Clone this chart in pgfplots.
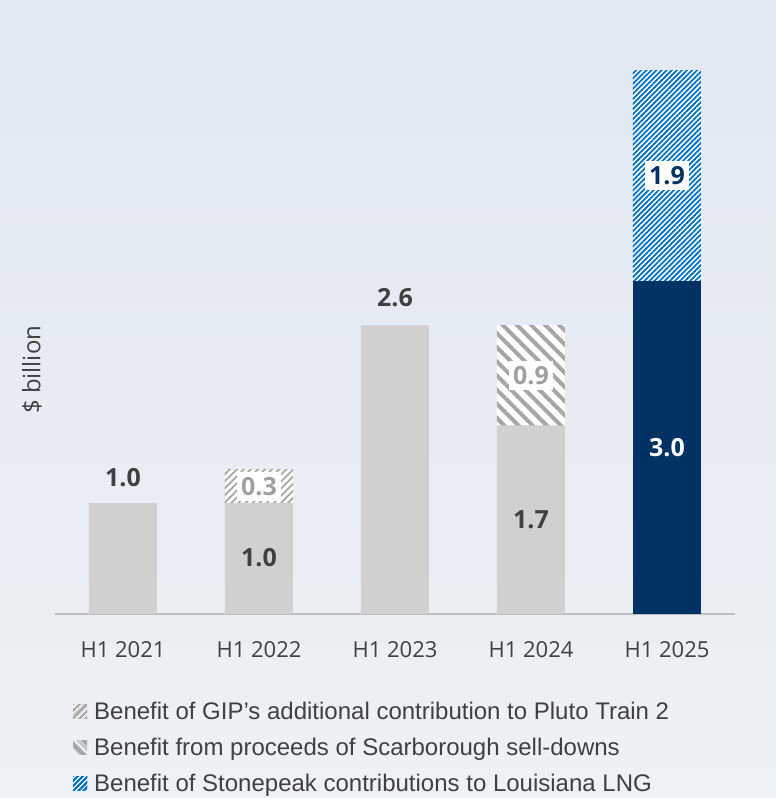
\documentclass[border=0pt]{standalone}
\usepackage{pgfplots}
\pgfplotsset{compat=1.18}
\usepackage{fontspec}
\setmainfont{Open Sans}
\newfontfamily\legendfont{Liberation Sans}
\usetikzlibrary{patterns.meta}
\definecolor{bargrey}{RGB}{208,208,208}
\definecolor{navy}{RGB}{0,50,100}
\definecolor{stripeblue}{RGB}{0,112,192}
\definecolor{stripegrey}{RGB}{166,166,166}
\definecolor{legrey}{RGB}{200,200,200}
\definecolor{txt}{RGB}{64,64,64}
\definecolor{lbl}{RGB}{160,160,160}
\definecolor{axisgrey}{RGB}{191,191,191}
\definecolor{bgtop}{RGB}{225,232,242}
\definecolor{bgbot}{RGB}{238,241,245}
\begin{document}
\begin{tikzpicture}
\shade[top color=bgtop, bottom color=bgbot] (0,0) rectangle (776pt,798pt);
\begin{axis}[
  at={(55pt,184pt)}, anchor=south west,
  scale only axis, width=680pt, height=610.5pt,
  xmin=-0.5, xmax=4.5, ymin=0, ymax=5.5,
  ybar stacked, bar width=0.5,
  axis x line*=bottom, axis y line*=left,
  x axis line style={draw=axisgrey, line width=1.5pt, -},
  y axis line style={draw=none},
  xtick={0,1,2,3,4},
  xticklabels={H1 2021,H1 2022,H1 2023,H1 2024,H1 2025},
  major tick length=0pt, ytick=\empty,
  xticklabel style={font=\fontsize{22}{26}\selectfont, text=txt, yshift=-24pt},
  ylabel={\$ billion},
  ylabel style={at={(axis description cs:-0.034,0.40)}, anchor=center, font=\fontsize{24}{28}\selectfont, text=txt},
  clip=false,
  legend style={at={(0.022,-0.138)}, anchor=north west, draw=none, fill=none,
    font=\legendfont\fontsize{24}{28}\selectfont, text=txt, row sep=13pt,
    /tikz/every odd column/.append style={column sep=5pt}},
  legend cell align=left,
  after end axis/.append code={
    \tikzset{vl/.style={font=\bfseries\fontsize{25}{29}\selectfont, inner sep=2pt},
             vb/.style={vl, fill=white, inner xsep=4pt, inner ysep=5pt}}
    \node[vl, text=txt] at (axis cs:0,1.225) {1.0};
    \node[vl, text=txt] at (axis cs:1,0.51) {1.0};
    \node[vb, text=lbl] at (axis cs:1,1.15) {0.3};
    \node[vl, text=txt] at (axis cs:2,2.85) {2.6};
    \node[vl, text=txt] at (axis cs:3,0.85) {1.7};
    \node[vb, text=lbl] at (axis cs:3,2.15) {0.9};
    \node[vl, text=white] at (axis cs:4,1.5) {3.0};
    \node[vb, text=navy] at (axis cs:4,3.95) {1.9};
  },
]
\addplot[fill=bargrey, draw=none, forget plot] coordinates {(0,1.0) (1,1.0) (2,2.6) (3,1.7) (4,0)};
\addplot[fill=navy, draw=none, forget plot] coordinates {(0,0) (1,0) (2,0) (3,0) (4,3.0)};
\addplot[fill=white, draw=none,
  postaction={pattern color=stripegrey, pattern={Lines[angle=45,distance=5pt,line width=1.8pt]}},
  legend image code/.code={
    \fill[white] (0pt,-7pt) rectangle (14pt,7pt);
    \fill[pattern color=legrey, pattern={Lines[angle=45,distance=3.5pt,line width=1.5pt]}] (0pt,-7pt) rectangle (14pt,7pt);}
  ] coordinates {(0,0) (1,0.3) (2,0) (3,0) (4,0)};
\addlegendentry{Benefit of GIP’s additional contribution to Pluto Train 2}
\addplot[fill=white, draw=none,
  postaction={pattern color=stripegrey, pattern={Lines[angle=-45,distance=10pt,line width=4pt]}},
  legend image code/.code={
    \fill[pattern color=legrey, pattern={Lines[angle=-45,distance=8pt,line width=3pt]}] (0pt,-7pt) rectangle (14pt,7pt);}
  ] coordinates {(0,0) (1,0) (2,0) (3,0.9) (4,0)};
\addlegendentry{Benefit from proceeds of Scarborough sell-downs}
\addplot[fill=white, draw=none,
  postaction={pattern color=stripeblue, pattern={Lines[angle=45,distance=3.6pt,line width=1.8pt]}},
  legend image code/.code={
    \fill[white] (0pt,-7pt) rectangle (14pt,7pt);
    \fill[pattern color=stripeblue, pattern={Lines[angle=45,distance=3.6pt,line width=1.8pt]}] (0pt,-7pt) rectangle (14pt,7pt);}
  ] coordinates {(0,0) (1,0) (2,0) (3,0) (4,1.9)};
\addlegendentry{Benefit of Stonepeak contributions to Louisiana LNG}
\end{axis}
\end{tikzpicture}
\end{document}
